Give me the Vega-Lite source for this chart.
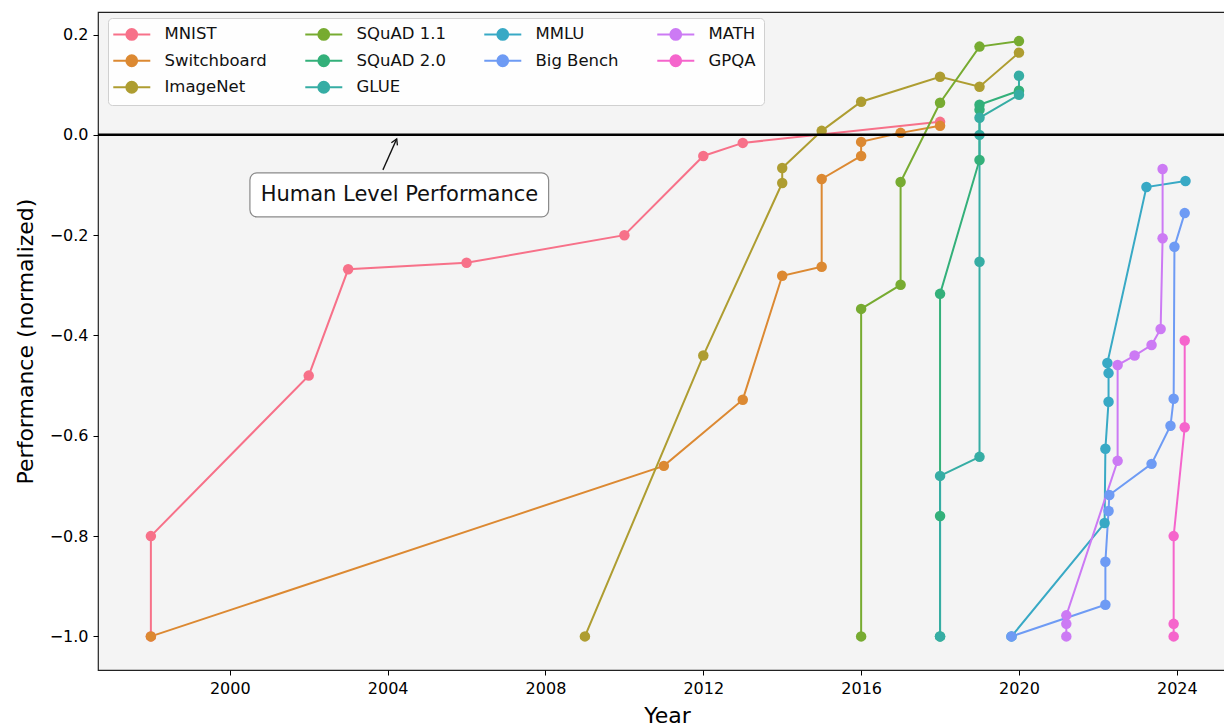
{
  "$schema": "https://vega.github.io/schema/vega-lite/v6.json",
  "width": 1138,
  "height": 658,
  "autosize": {"type": "none"},
  "padding": {"left": 98, "top": 12, "right": 0, "bottom": 57},
  "background": "white",
  "config": {
    "font": "DejaVu Sans",
    "view": {"fill": "#f4f4f4", "stroke": "#222222", "strokeWidth": 1.2},
    "axis": {"labelFont": "DejaVu Sans", "titleFont": "DejaVu Sans", "labelColor": "#000000", "titleColor": "#000000", "tickColor": "#000000", "domain": false, "grid": false, "labelFontSize": 16, "titleFontSize": 22, "titleFontWeight": "normal", "tickSize": 5, "tickWidth": 1}
  },
  "datasets": {
    "series": [
      {"benchmark": "MNIST", "year": 1998, "value": -1.0, "i": 0},
      {"benchmark": "MNIST", "year": 1998, "value": -0.80, "i": 1},
      {"benchmark": "MNIST", "year": 2002, "value": -0.48, "i": 2},
      {"benchmark": "MNIST", "year": 2003, "value": -0.268, "i": 3},
      {"benchmark": "MNIST", "year": 2006, "value": -0.255, "i": 4},
      {"benchmark": "MNIST", "year": 2010, "value": -0.20, "i": 5},
      {"benchmark": "MNIST", "year": 2012, "value": -0.042, "i": 6},
      {"benchmark": "MNIST", "year": 2013, "value": -0.016, "i": 7},
      {"benchmark": "MNIST", "year": 2018, "value": 0.026, "i": 8},
      {"benchmark": "Switchboard", "year": 1998, "value": -1.0, "i": 0},
      {"benchmark": "Switchboard", "year": 2011, "value": -0.66, "i": 1},
      {"benchmark": "Switchboard", "year": 2013, "value": -0.528, "i": 2},
      {"benchmark": "Switchboard", "year": 2014, "value": -0.281, "i": 3},
      {"benchmark": "Switchboard", "year": 2015, "value": -0.263, "i": 4},
      {"benchmark": "Switchboard", "year": 2015, "value": -0.088, "i": 5},
      {"benchmark": "Switchboard", "year": 2016, "value": -0.042, "i": 6},
      {"benchmark": "Switchboard", "year": 2016, "value": -0.014, "i": 7},
      {"benchmark": "Switchboard", "year": 2017, "value": 0.004, "i": 8},
      {"benchmark": "Switchboard", "year": 2018, "value": 0.018, "i": 9},
      {"benchmark": "ImageNet", "year": 2009, "value": -1.0, "i": 0},
      {"benchmark": "ImageNet", "year": 2012, "value": -0.44, "i": 1},
      {"benchmark": "ImageNet", "year": 2014, "value": -0.096, "i": 2},
      {"benchmark": "ImageNet", "year": 2014, "value": -0.066, "i": 3},
      {"benchmark": "ImageNet", "year": 2015, "value": 0.008, "i": 4},
      {"benchmark": "ImageNet", "year": 2016, "value": 0.066, "i": 5},
      {"benchmark": "ImageNet", "year": 2018, "value": 0.116, "i": 6},
      {"benchmark": "ImageNet", "year": 2019, "value": 0.096, "i": 7},
      {"benchmark": "ImageNet", "year": 2020, "value": 0.164, "i": 8},
      {"benchmark": "SQuAD 1.1", "year": 2016, "value": -1.0, "i": 0},
      {"benchmark": "SQuAD 1.1", "year": 2016, "value": -0.347, "i": 1},
      {"benchmark": "SQuAD 1.1", "year": 2017, "value": -0.299, "i": 2},
      {"benchmark": "SQuAD 1.1", "year": 2017, "value": -0.094, "i": 3},
      {"benchmark": "SQuAD 1.1", "year": 2018, "value": 0.064, "i": 4},
      {"benchmark": "SQuAD 1.1", "year": 2019, "value": 0.176, "i": 5},
      {"benchmark": "SQuAD 1.1", "year": 2020, "value": 0.187, "i": 6},
      {"benchmark": "SQuAD 2.0", "year": 2018, "value": -1.0, "i": 0},
      {"benchmark": "SQuAD 2.0", "year": 2018, "value": -0.76, "i": 1},
      {"benchmark": "SQuAD 2.0", "year": 2018, "value": -0.317, "i": 2},
      {"benchmark": "SQuAD 2.0", "year": 2019, "value": -0.05, "i": 3},
      {"benchmark": "SQuAD 2.0", "year": 2019, "value": 0.05, "i": 4},
      {"benchmark": "SQuAD 2.0", "year": 2019, "value": 0.06, "i": 5},
      {"benchmark": "SQuAD 2.0", "year": 2020, "value": 0.088, "i": 6},
      {"benchmark": "GLUE", "year": 2018, "value": -1.0, "i": 0},
      {"benchmark": "GLUE", "year": 2018, "value": -0.68, "i": 1},
      {"benchmark": "GLUE", "year": 2019, "value": -0.642, "i": 2},
      {"benchmark": "GLUE", "year": 2019, "value": -0.253, "i": 3},
      {"benchmark": "GLUE", "year": 2019, "value": 0.0, "i": 4},
      {"benchmark": "GLUE", "year": 2019, "value": 0.034, "i": 5},
      {"benchmark": "GLUE", "year": 2020, "value": 0.08, "i": 6},
      {"benchmark": "GLUE", "year": 2020, "value": 0.118, "i": 7},
      {"benchmark": "MMLU", "year": 2019.81, "value": -1.0, "i": 0},
      {"benchmark": "MMLU", "year": 2022.17, "value": -0.774, "i": 1},
      {"benchmark": "MMLU", "year": 2022.19, "value": -0.626, "i": 2},
      {"benchmark": "MMLU", "year": 2022.27, "value": -0.532, "i": 3},
      {"benchmark": "MMLU", "year": 2022.27, "value": -0.475, "i": 4},
      {"benchmark": "MMLU", "year": 2022.24, "value": -0.455, "i": 5},
      {"benchmark": "MMLU", "year": 2023.23, "value": -0.104, "i": 6},
      {"benchmark": "MMLU", "year": 2024.22, "value": -0.092, "i": 7},
      {"benchmark": "Big Bench", "year": 2019.81, "value": -1.0, "i": 0},
      {"benchmark": "Big Bench", "year": 2022.19, "value": -0.937, "i": 1},
      {"benchmark": "Big Bench", "year": 2022.19, "value": -0.851, "i": 2},
      {"benchmark": "Big Bench", "year": 2022.27, "value": -0.75, "i": 3},
      {"benchmark": "Big Bench", "year": 2022.29, "value": -0.718, "i": 4},
      {"benchmark": "Big Bench", "year": 2023.36, "value": -0.656, "i": 5},
      {"benchmark": "Big Bench", "year": 2023.84, "value": -0.58, "i": 6},
      {"benchmark": "Big Bench", "year": 2023.92, "value": -0.526, "i": 7},
      {"benchmark": "Big Bench", "year": 2023.94, "value": -0.223, "i": 8},
      {"benchmark": "Big Bench", "year": 2024.2, "value": -0.156, "i": 9},
      {"benchmark": "MATH", "year": 2021.2, "value": -1.0, "i": 0},
      {"benchmark": "MATH", "year": 2021.2, "value": -0.975, "i": 1},
      {"benchmark": "MATH", "year": 2021.2, "value": -0.958, "i": 2},
      {"benchmark": "MATH", "year": 2022.5, "value": -0.65, "i": 3},
      {"benchmark": "MATH", "year": 2022.5, "value": -0.459, "i": 4},
      {"benchmark": "MATH", "year": 2022.93, "value": -0.44, "i": 5},
      {"benchmark": "MATH", "year": 2023.36, "value": -0.419, "i": 6},
      {"benchmark": "MATH", "year": 2023.59, "value": -0.387, "i": 7},
      {"benchmark": "MATH", "year": 2023.64, "value": -0.206, "i": 8},
      {"benchmark": "MATH", "year": 2023.64, "value": -0.068, "i": 9},
      {"benchmark": "GPQA", "year": 2023.92, "value": -1.0, "i": 0},
      {"benchmark": "GPQA", "year": 2023.92, "value": -0.975, "i": 1},
      {"benchmark": "GPQA", "year": 2023.92, "value": -0.80, "i": 2},
      {"benchmark": "GPQA", "year": 2024.2, "value": -0.583, "i": 3},
      {"benchmark": "GPQA", "year": 2024.2, "value": -0.41, "i": 4}
    ],
    "note": [
      {"label": "Human Level Performance", "x0": 2000.51, "x1": 2008.08, "y0": -0.0758, "y1": -0.1635, "tx": 2004.3, "ty": -0.1197, "ax0": 2003.88, "ay0": -0.0698, "ax1": 2004.23, "ay1": -0.008}
    ],
    "human": [{"level": 0}]
  },
  "layer": [
    {
      "data": {"name": "series"},
      "mark": {"type": "line", "strokeWidth": 2, "clip": false},
      "encoding": {
        "x": {"field": "year", "type": "quantitative", "scale": {"domain": [1996.66, 2025.5], "nice": false, "zero": false}, "axis": {"values": [2000, 2004, 2008, 2012, 2016, 2020, 2024], "format": "d", "title": "Year", "titlePadding": 9, "labelPadding": 5}},
        "y": {"field": "value", "type": "quantitative", "scale": {"domain": [-1.067, 0.245], "nice": false, "zero": false}, "axis": {"values": [-1.0, -0.8, -0.6, -0.4, -0.2, 0.0, 0.2], "format": ".1f", "title": "Performance (normalized)", "titlePadding": 12, "labelPadding": 5}},
        "order": {"field": "i", "type": "quantitative"},
        "color": {
          "field": "benchmark", "type": "nominal",
          "scale": {
            "domain": ["MNIST", "Switchboard", "GPQA", "SQuAD 1.1", "SQuAD 2.0", "ImageNet", "MMLU", "Big Bench", "GLUE", "MATH"],
            "range": ["#f77189", "#dc8932", "#f565cc", "#77ab31", "#33b07a", "#ae9d31", "#38a9c5", "#6e9bf4", "#36ada4", "#cc7af4"]
          },
          "legend": {
            "orient": "none", "legendX": 10, "legendY": 6, "columns": 4, "title": null,
            "symbolType": "M-1.83,0L4.34,0M0.35,0A0.9,0.9,0,1,1,2.15,0A0.9,0.9,0,1,1,0.35,0Z",
            "symbolSize": 144, "symbolStrokeWidth": 2,
            "labelFont": "DejaVu Sans", "labelFontSize": 16.5, "labelColor": "#111111", "labelOffset": 32,
            "columnPadding": 34, "rowPadding": 6.5,
            "fillColor": "rgba(255,255,255,0.85)", "strokeColor": "#d0d0d0", "cornerRadius": 4, "padding": 8,
            "encode": {"symbols": {"update": {"fill": {"scale": "color", "field": "value"}, "stroke": {"scale": "color", "field": "value"}, "opacity": {"value": 1}}}}
          }
        }
      }
    },
    {
      "data": {"name": "series"},
      "mark": {"type": "point", "filled": true, "size": 110, "opacity": 1, "clip": false},
      "encoding": {
        "x": {"field": "year", "type": "quantitative"},
        "y": {"field": "value", "type": "quantitative"},
        "color": {
          "field": "benchmark", "type": "nominal",
          "scale": {
            "domain": ["MNIST", "Switchboard", "GPQA", "SQuAD 1.1", "SQuAD 2.0", "ImageNet", "MMLU", "Big Bench", "GLUE", "MATH"],
            "range": ["#f77189", "#dc8932", "#f565cc", "#77ab31", "#33b07a", "#ae9d31", "#38a9c5", "#6e9bf4", "#36ada4", "#cc7af4"]
          },
          "legend": null
        }
      }
    },
    {
      "data": {"name": "human"},
      "mark": {"type": "rule", "color": "#000000", "strokeWidth": 2.5},
      "encoding": {"y": {"field": "level", "type": "quantitative"}}
    },
    {
      "data": {"name": "note"},
      "mark": {"type": "rect", "fill": "#ffffff", "stroke": "#8a8a8a", "strokeWidth": 1.2, "cornerRadius": 7},
      "encoding": {
        "x": {"field": "x0", "type": "quantitative"}, "x2": {"field": "x1"},
        "y": {"field": "y0", "type": "quantitative"}, "y2": {"field": "y1"}
      }
    },
    {
      "data": {"name": "note"},
      "mark": {"type": "text", "fontSize": 21, "font": "DejaVu Sans", "color": "#111111", "align": "center", "baseline": "middle"},
      "encoding": {
        "x": {"field": "tx", "type": "quantitative"},
        "y": {"field": "ty", "type": "quantitative"},
        "text": {"field": "label"}
      }
    },
    {
      "data": {"name": "note"},
      "mark": {"type": "rule", "color": "#111111", "strokeWidth": 1.3},
      "encoding": {
        "x": {"field": "ax0", "type": "quantitative"}, "x2": {"field": "ax1"},
        "y": {"field": "ay0", "type": "quantitative"}, "y2": {"field": "ay1"}
      }
    },
    {
      "data": {"name": "note"},
      "mark": {"type": "point", "shape": "M-0.55,0.95L0,0L0.55,0.95", "filled": false, "size": 144, "angle": 24, "stroke": "#111111", "strokeWidth": 1.3, "opacity": 1},
      "encoding": {
        "x": {"field": "ax1", "type": "quantitative"},
        "y": {"field": "ay1", "type": "quantitative"}
      }
    }
  ]
}
